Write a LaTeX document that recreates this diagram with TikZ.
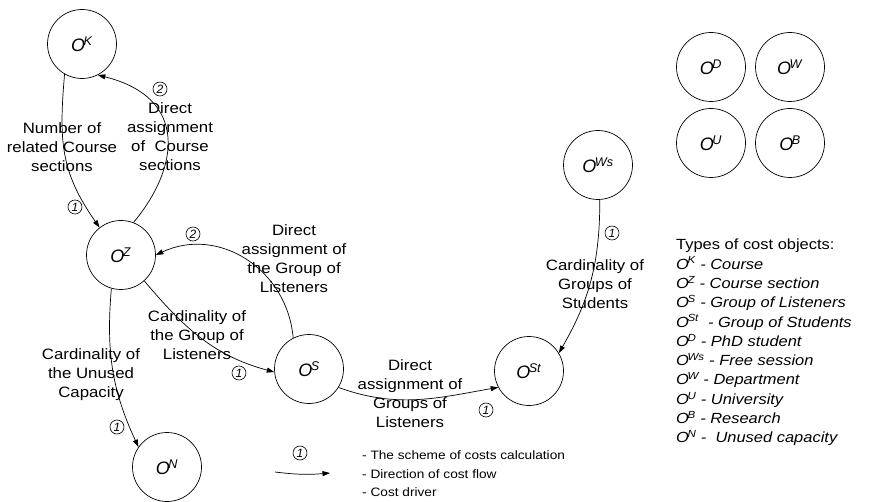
\documentclass[tikz,border=0pt]{standalone}
\usepackage{fontspec}
\setmainfont{Liberation Sans}
\newfontfamily\labfont{Liberation Sans}[FakeStretch=1.12]
\usetikzlibrary{arrows.meta}
\newcommand\objt[1]{\textit{O}\kern-1.5pt\textsuperscript{\textit{#1}}}
\begin{document}
\begin{tikzpicture}[x=1pt,y=1pt,
  obj/.style={draw, circle, minimum size=69pt, inner sep=0pt, line width=0.7pt, font=\fontsize{18}{20}\selectfont},
  flow/.style={line width=0.7pt, -{Triangle[length=7.5pt,width=5pt]}},
  lab/.style={align=center, font=\labfont\fontsize{15}{19}\selectfont, inner sep=0pt},
  mk/.style={draw, circle, minimum size=14pt, inner sep=0pt, line width=0.6pt, font=\fontsize{12}{12}\selectfont\itshape},
  legtext/.style={anchor=west, inner sep=0pt, font=\labfont\fontsize{12.2}{14}\selectfont}]
\useasboundingbox (0,0) rectangle (875,501);
% cost objects
\node[obj] (K) at (82,457) {\objt{K}};
\node[obj] (Z) at (121,246) {\objt{Z}};
\node[obj] (N) at (167,34) {\objt{N}};
\node[obj] (S) at (309,132) {\objt{S}};
\node[obj] (St) at (529,130) {\objt{St}};
\node[obj] (Ws) at (598,336) {\objt{Ws}};
\node[obj] (D) at (711,434) {\objt{D}};
\node[obj] (W) at (790,434) {\objt{W}};
\node[obj] (U) at (711,358) {\objt{U}};
\node[obj] (B) at (790,358) {\objt{B}};
% flows
\draw[flow] (K.240) to[out=265,in=125,looseness=1.1] (Z.128);
\draw[flow] (Z.69) .. controls +(50:70) and +(-14:95) .. (K.297);
\draw[flow] (S.117) to[out=95,in=25,looseness=1.1] (Z.0);
\draw[flow] (Z.-48) to[out=-50,in=165] (S.185);
\draw[flow] (Z.254) to[out=265,in=115] (N.145);
\draw[flow] (S.-32) to[out=-20,in=190] (St.208);
\draw[flow] (Ws.273) to[out=-90,in=60] (St.31);
% cost driver labels
\node[lab] (l1) at (62,354) {Number of\\related Course\\sections};
\node[lab] (l2) at (170,364) {Direct\\assignment\\of\ \ Course\\sections};
\node[lab] (l3) at (294,242) {Direct\\assignment of\\the Group of\\Listeners};
\node[lab] (l4) at (197,166) {Cardinality of\\the Group of\\Listeners};
\node[lab] (l5) at (91,126) {Cardinality of\\the Unused\\Capacity};
\node[lab] (l6) at (410,107) {Direct\\assignment of\\Groups of\\Listeners};
\node[lab] (l7) at (595,217) {Cardinality of\\Groups of\\Students};
% scheme markers
\node[mk] (m1) at (75,294) {1};
\node[mk] (m2) at (160,412) {2};
\node[mk] (m3) at (193,267) {2};
\node[mk] (m4) at (239,128) {1};
\node[mk] (m5) at (117,74) {1};
\node[mk] (m6) at (486,91) {1};
\node[mk] (m7) at (612,268) {1};
% bottom legend
\node[mk] (lm) at (300,48) {1};
\coordinate (la) at (275,29);
\coordinate (lb) at (330,28);
\draw[flow] (la) to[bend right=6] (lb);
\node[legtext] (t1) at (362,46) {- The scheme of costs calculation};
\node[legtext] (t2) at (362,27) {- Direction of cost flow};
\node[legtext] (t3) at (362,9) {- Cost driver};
% types legend
\node[anchor=north west, align=left, inner sep=0pt, font=\labfont\fontsize{14.7}{19.3}\selectfont] (types) at (676,262)
{Types of cost objects:\\
\textit{O\kern-1.5pt\textsuperscript{K} - Course}\\
\textit{O\kern-1.5pt\textsuperscript{Z} - Course section}\\
\textit{O\kern-1.5pt\textsuperscript{S} - Group of Listeners}\\
\textit{O\kern-1.5pt\textsuperscript{St}\ \ - Group of Students}\\
\textit{O\kern-1.5pt\textsuperscript{D} - PhD student}\\
\textit{O\kern-1.5pt\textsuperscript{Ws} - Free session}\\
\textit{O\kern-1.5pt\textsuperscript{W} - Department}\\
\textit{O\kern-1.5pt\textsuperscript{U} - University}\\
\textit{O\kern-1.5pt\textsuperscript{B} - Research}\\
\textit{O\kern-1.5pt\textsuperscript{N} -\ \ Unused capacity}};
\end{tikzpicture}
\end{document}
